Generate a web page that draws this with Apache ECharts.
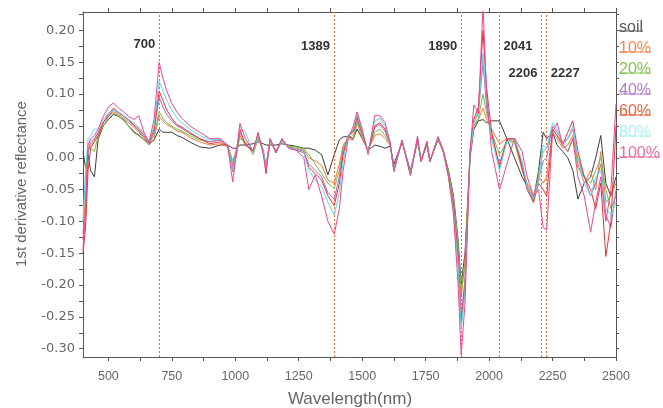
<style>html, body { margin: 0; padding: 0; background: #fff; }</style>
<div id="main" style="width:663px; height:408px;"></div>

<script src="https://cdn.jsdelivr.net/npm/echarts@6.0.0/dist/echarts.min.js"></script>
<script>
var wavelength = [
	400, 410, 420, 430, 445, 460, 480, 500, 520, 540,
	560, 580, 600, 620, 640, 660, 680, 700, 715, 730,
	750, 770, 790, 820, 860, 900, 940, 970, 990, 1005,
	1018, 1040, 1070, 1090, 1110, 1121, 1137, 1160, 1184, 1210,
	1240, 1270, 1290, 1315, 1340, 1365, 1390, 1410, 1425, 1445,
	1465, 1480, 1500, 1523, 1550, 1570, 1590, 1610, 1625, 1657,
	1690, 1718, 1732, 1755, 1767, 1799, 1820, 1840, 1860, 1878,
	1890, 1905, 1925, 1940, 1958, 1976, 1990, 2010, 2041, 2070,
	2100, 2130, 2150, 2175, 2195, 2213, 2227, 2250, 2268, 2290,
	2310, 2330, 2350, 2375, 2400, 2420, 2440, 2460, 2480, 2500
];

var soil = [
	0.010, -0.015, 0.005, -0.020, -0.030, 0.030, 0.050, 0.060, 0.068, 0.065,
	0.060, 0.050, 0.040, 0.035, 0.028, 0.022, 0.028, 0.045, 0.040, 0.040,
	0.040, 0.035, 0.032, 0.025, 0.017, 0.015, 0.020, 0.020, 0.015, 0.015,
	0.020, 0.020, 0.022, 0.025, 0.022, 0.020, 0.020, 0.020, 0.022, 0.020,
	0.018, 0.015, 0.015, 0.012, 0.005, -0.027, 0.005, 0.028, 0.033, 0.033,
	0.030, 0.045, 0.030, 0.012, 0.020, 0.018, 0.015, 0.018, -0.010, 0.025,
	-0.020, 0.025, -0.002, 0.020, -0.004, 0.028, 0.010, -0.020, -0.060, -0.130,
	-0.200, -0.150, 0.000, 0.045, 0.058, 0.060, 0.055, 0.058, 0.058, 0.030,
	0.000, -0.030, -0.045, -0.065, -0.020, 0.040, 0.030, 0.040, 0.020, 0.010,
	0.000, -0.020, -0.065, -0.040, -0.030, 0.000, 0.035, -0.040, -0.060, -0.030
];
var p10 = [
	-0.120, -0.060, 0.010, 0.020, 0.028, 0.040, 0.055, 0.065, 0.072, 0.068,
	0.062, 0.055, 0.048, 0.040, 0.030, 0.020, 0.030, 0.065, 0.058, 0.052,
	0.048, 0.042, 0.040, 0.032, 0.025, 0.020, 0.022, 0.018, -0.010, 0.010,
	0.035, 0.020, 0.012, 0.032, 0.010, -0.018, 0.025, 0.010, 0.028, 0.017,
	0.015, 0.012, 0.000, -0.005, -0.012, -0.035, -0.040, -0.010, 0.020, 0.030,
	0.028, 0.055, 0.030, 0.012, 0.035, 0.038, 0.030, 0.020, -0.018, 0.026,
	-0.025, 0.028, -0.005, 0.022, -0.006, 0.030, 0.008, -0.025, -0.070, -0.140,
	-0.220, -0.160, 0.010, 0.050, 0.060, 0.078, 0.060, 0.045, 0.022, 0.030,
	0.025, -0.020, -0.040, -0.060, -0.030, -0.040, -0.030, 0.040, 0.030, 0.015,
	0.020, 0.035, -0.010, -0.040, -0.020, -0.050, 0.010, -0.070, -0.060, -0.040
];
var p20 = [
	-0.100, -0.030, 0.015, 0.015, 0.010, 0.035, 0.050, 0.062, 0.070, 0.066,
	0.058, 0.050, 0.042, 0.036, 0.028, 0.022, 0.035, 0.072, 0.062, 0.055,
	0.050, 0.045, 0.042, 0.035, 0.028, 0.025, 0.028, 0.020, -0.005, 0.012,
	0.030, 0.025, 0.005, 0.030, 0.012, -0.012, 0.028, 0.008, 0.026, 0.018,
	0.017, 0.014, 0.005, -0.010, -0.025, -0.040, -0.048, -0.020, 0.015, 0.032,
	0.035, 0.058, 0.035, 0.012, 0.040, 0.045, 0.035, 0.022, -0.015, 0.025,
	-0.022, 0.027, -0.004, 0.021, -0.005, 0.030, 0.010, -0.022, -0.065, -0.135,
	-0.210, -0.170, 0.005, 0.050, 0.062, 0.100, 0.070, 0.040, 0.005, 0.025,
	0.025, -0.015, -0.045, -0.070, -0.025, 0.010, 0.015, 0.045, 0.035, 0.020,
	0.010, 0.030, -0.015, -0.030, -0.040, -0.020, 0.000, -0.050, -0.080, -0.060
];
var p40 = [
	-0.130, -0.090, 0.010, 0.025, 0.030, 0.040, 0.055, 0.065, 0.075, 0.070,
	0.065, 0.058, 0.050, 0.042, 0.032, 0.022, 0.040, 0.095, 0.080, 0.068,
	0.058, 0.050, 0.046, 0.038, 0.030, 0.025, 0.028, 0.020, -0.015, 0.015,
	0.040, 0.022, 0.010, 0.035, 0.012, -0.015, 0.028, 0.008, 0.028, 0.016,
	0.014, 0.010, -0.010, -0.020, -0.030, -0.055, -0.065, -0.030, 0.010, 0.035,
	0.040, 0.062, 0.038, 0.010, 0.048, 0.052, 0.042, 0.022, -0.018, 0.026,
	-0.026, 0.030, -0.004, 0.024, -0.005, 0.032, 0.010, -0.028, -0.075, -0.150,
	-0.250, -0.190, 0.005, 0.055, 0.070, 0.150, 0.080, 0.035, -0.010, 0.028,
	0.030, -0.010, -0.045, -0.065, -0.035, -0.005, 0.000, 0.050, 0.040, 0.025,
	0.030, 0.045, 0.000, -0.030, -0.060, -0.040, -0.010, -0.090, -0.110, -0.050
];
var p60 = [
	-0.150, -0.110, -0.020, 0.015, 0.025, 0.035, 0.055, 0.068, 0.078, 0.072,
	0.066, 0.060, 0.052, 0.045, 0.035, 0.024, 0.045, 0.105, 0.090, 0.075,
	0.062, 0.052, 0.048, 0.040, 0.030, 0.022, 0.025, 0.018, -0.022, 0.005,
	0.045, 0.020, 0.010, 0.038, 0.010, -0.025, 0.030, 0.008, 0.030, 0.015,
	0.012, 0.008, -0.015, -0.025, -0.035, -0.060, -0.075, -0.040, 0.005, 0.035,
	0.042, 0.065, 0.040, 0.010, 0.050, 0.055, 0.045, 0.022, -0.020, 0.027,
	-0.027, 0.030, -0.006, 0.023, -0.006, 0.033, 0.008, -0.030, -0.080, -0.160,
	-0.260, -0.200, 0.010, 0.060, 0.080, 0.200, 0.110, 0.040, -0.015, 0.030,
	0.030, -0.015, -0.050, -0.070, -0.040, -0.050, -0.060, 0.045, 0.035, 0.020,
	0.040, 0.058, 0.010, -0.030, -0.050, -0.080, -0.040, -0.155, -0.100, 0.050
];
var p80 = [
	-0.100, -0.020, 0.030, 0.035, 0.045, 0.045, 0.060, 0.070, 0.075, 0.072,
	0.066, 0.060, 0.055, 0.048, 0.038, 0.025, 0.050, 0.120, 0.105, 0.090,
	0.075, 0.062, 0.055, 0.045, 0.035, 0.028, 0.030, 0.020, -0.020, 0.010,
	0.048, 0.040, 0.008, 0.035, 0.012, -0.015, 0.028, 0.010, 0.028, 0.016,
	0.014, 0.008, -0.020, -0.035, -0.045, -0.070, -0.090, -0.055, -0.005, 0.035,
	0.045, 0.068, 0.042, 0.010, 0.058, 0.062, 0.050, 0.022, -0.020, 0.028,
	-0.026, 0.033, -0.004, 0.026, -0.005, 0.032, 0.010, -0.030, -0.085, -0.170,
	-0.270, -0.210, 0.005, 0.055, 0.075, 0.165, 0.090, 0.030, -0.020, 0.025,
	0.030, -0.005, -0.045, -0.065, -0.040, 0.020, 0.015, 0.055, 0.045, 0.020,
	0.030, 0.050, 0.000, -0.040, -0.060, -0.030, -0.020, -0.080, -0.090, -0.070
];
var p100 = [
	-0.145, -0.080, 0.020, 0.030, 0.035, 0.045, 0.065, 0.080, 0.086, 0.078,
	0.072, 0.065, 0.060, 0.066, 0.040, 0.025, 0.060, 0.150, 0.125, 0.105,
	0.085, 0.072, 0.062, 0.050, 0.040, 0.030, 0.030, 0.020, -0.038, 0.010,
	0.054, 0.030, 0.010, 0.040, 0.005, -0.020, 0.030, 0.010, 0.030, 0.015,
	0.012, 0.000, -0.050, -0.027, -0.060, -0.100, -0.120, -0.080, -0.020, 0.030,
	0.050, 0.072, 0.045, 0.005, 0.067, 0.066, 0.055, 0.025, -0.022, 0.028,
	-0.028, 0.034, -0.006, 0.026, -0.006, 0.033, 0.012, -0.030, -0.090, -0.200,
	-0.310, -0.230, 0.010, 0.083, 0.070, 0.240, 0.100, 0.010, -0.050, -0.010,
	0.031, 0.010, -0.030, -0.060, -0.050, -0.110, -0.113, 0.040, 0.055, 0.020,
	0.010, 0.030, -0.030, -0.060, -0.117, -0.070, -0.030, -0.100, -0.050, 0.085
];

var seriesNames = ['soil', '10%', '20%', '40%', '60%', '80%', '100%'];
var seriesValues = [soil, p10, p20, p40, p60, p80, p100];
var lineColors = ['#3c3c3c', '#f07a3c', '#78be3c', '#a46cc4', '#e83232', '#5fd6ee', '#f0448e'];
var legendColors = ['#5a5a5a', '#f5874e', '#86c455', '#b27ac8', '#e8603c', '#aaf0f4', '#ef6aa0'];

// band positions marked with dotted lines
var bands = [700, 1389, 1890, 2041, 2206, 2227];
var bandLabelY = [0.178, 0.175, 0.175, 0.175, 0.133, 0.133];
var bandLabelSide = ['left', 'left', 'left', 'right', 'left', 'right'];

var xLabelTicks = [500, 750, 1000, 1250, 1500, 1750, 2000, 2250, 2500];
var xAllTicks = [500, 625, 750, 875, 1000, 1125, 1250, 1375, 1500, 1625, 1750, 1875, 2000, 2125, 2250, 2375, 2500];
var yLabelTicks = [-0.30, -0.25, -0.20, -0.15, -0.10, -0.05, 0.00, 0.05, 0.10, 0.15, 0.20];
var yAllTicks = [-0.30, -0.275, -0.25, -0.225, -0.20, -0.175, -0.15, -0.125, -0.10, -0.075, -0.05, -0.025,
	0.00, 0.025, 0.05, 0.075, 0.10, 0.125, 0.15, 0.175, 0.20, 0.225];

var xTitle = 'Wavelength(nm)';
var yTitle = '1st derivative reflectance';

var myChart = echarts.init(document.getElementById('main'));

var axisColor = '#555';
var markColor = '#f26a2a';
var labelFont = {color: '#666', fontSize: 12.5, fontFamily: 'Liberation Sans, Arial'};

var series = seriesNames.map(function (name, k) {
	return {
		name: name,
		type: 'line',
		showSymbol: false,
		symbol: 'none',
		data: wavelength.map(function (w, i) { return [w, seriesValues[k][i]]; }),
		lineStyle: {width: 1, color: lineColors[k]},
		itemStyle: {color: lineColors[k]},
		z: 3 + k,
		animation: false
	};
});

// empty helper series that only carries the band lines and labels
series.push({
	name: 'bands',
	type: 'line',
	data: [],
	color: markColor,
	z: 20,
	markLine: {
		silent: true,
		symbol: 'none',
		label: {show: false},
		emphasis: {disabled: true},
		lineStyle: {type: [2, 2], color: markColor, width: 1, opacity: 1},
		data: bands.map(function (b) { return {xAxis: b}; })
	},
	markPoint: {
		symbol: 'circle',
		symbolSize: 0,
		itemStyle: {color: 'transparent'},
		data: bands.map(function (b, i) {
			return {
				coord: [b, bandLabelY[i]],
				label: {
					show: true,
					position: bandLabelSide[i],
					distance: 4,
					formatter: String(b),
					color: '#333',
					fontWeight: 'bold',
					fontSize: 13,
					fontFamily: 'Liberation Sans, Arial'
				}
			};
		})
	}
});

// legend drawn as underlined texts, axis titles as plain texts
var measure = document.createElement('canvas').getContext('2d');
measure.font = '16px "Liberation Sans"';
var graphics = [];
seriesNames.forEach(function (name, i) {
	var top = 14 + i * 21;
	var w = measure.measureText(name).width;
	graphics.push({
		type: 'text', x: 619, y: top,
		style: {text: name, fill: legendColors[i], font: '16px "Liberation Sans", Arial', textVerticalAlign: 'top'}
	});
	graphics.push({
		type: 'line', shape: {x1: 619, y1: top + 17, x2: 619 + w, y2: top + 17},
		style: {stroke: legendColors[i], lineWidth: 1}
	});
});
graphics.push({
	type: 'text', x: 350, y: 399,
	style: {text: xTitle, fill: '#666', font: '17px "Liberation Sans", Arial', textAlign: 'center', textVerticalAlign: 'middle'}
});
graphics.push({
	type: 'text', x: 22, y: 184, rotation: Math.PI / 2,
	style: {text: yTitle, fill: '#666', font: '15px "Liberation Sans", Arial', textAlign: 'center', textVerticalAlign: 'middle'}
});

myChart.setOption({
	backgroundColor: '#fff',
	animation: false,
	grid: {left: 83, top: 12, right: 47, bottom: 51, outerBoundsMode: 'none', containLabel: false},
	xAxis: [
		{
			type: 'value', min: 400, max: 2500,
			axisLine: {show: true, onZero: false, lineStyle: {color: axisColor}},
			axisTick: {show: true, length: 4, customValues: xAllTicks, lineStyle: {color: axisColor}},
			axisLabel: {
				customValues: xLabelTicks, margin: 9,
				color: labelFont.color, fontSize: labelFont.fontSize, fontFamily: labelFont.fontFamily,
				formatter: function (v) { return String(v); }
			},
			splitLine: {show: false}
		},
		{
			type: 'value', min: 400, max: 2500, position: 'top',
			axisLine: {show: true, onZero: false, lineStyle: {color: axisColor}},
			axisTick: {show: true, length: 4, customValues: xAllTicks, lineStyle: {color: axisColor}},
			axisLabel: {show: false},
			splitLine: {show: false}
		}
	],
	yAxis: [
		{
			type: 'value', min: -0.313, max: 0.229,
			axisLine: {show: true, onZero: false, lineStyle: {color: axisColor}},
			axisTick: {show: true, length: 4, customValues: yAllTicks, lineStyle: {color: axisColor}},
			axisLabel: {
				customValues: yLabelTicks, margin: 8,
				color: labelFont.color, fontSize: 13, fontFamily: 'DejaVu Sans',
				formatter: function (v) { return v.toFixed(2); }
			},
			splitLine: {show: false}
		},
		{
			type: 'value', min: -0.313, max: 0.229, position: 'right',
			axisLine: {show: true, onZero: false, lineStyle: {color: axisColor}},
			axisTick: {show: true, length: 3, customValues: yAllTicks, lineStyle: {color: axisColor}},
			axisLabel: {show: false},
			splitLine: {show: false}
		}
	],
	graphic: graphics,
	series: series
});
</script>
